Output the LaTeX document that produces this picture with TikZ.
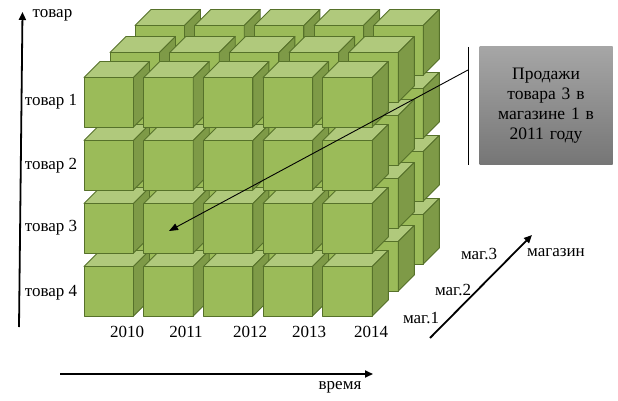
\documentclass[tikz,border=0pt]{standalone}
\usepackage{fontspec}
\setmainfont{Liberation Serif}
\usetikzlibrary{arrows.meta,positioning}
\definecolor{cubefront}{HTML}{9BBB59}
\definecolor{cubetop}{HTML}{B0C97C}
\definecolor{cubeside}{HTML}{7E9A47}
\definecolor{cubeedge}{HTML}{56712A}
\definecolor{notetop}{HTML}{A6A6A6}
\definecolor{notebot}{HTML}{767676}

\begin{document}
\begin{tikzpicture}[x=1pt,y=-1pt,
    lbl/.style={font=\fontsize{17}{20}\selectfont, inner sep=0pt},
    axis/.style={line width=1.8pt,-{Triangle[length=8pt,width=7pt]}},
    face/.style={draw=cubeedge,line width=0.9pt,line join=round}]
  \useasboundingbox (0,0) rectangle (618,401);
  % cubes, back layer first
  \foreach \dx/\dy in {51/-52,26/-25,0/0}
    \foreach \r in {3,2,1,0}
      \foreach \c in {0,...,4} {
        \pgfmathsetmacro\x{84+59.7*\c+\dx}
        \pgfmathsetmacro\y{77.5+63*\r+\dy}
        \draw[face,fill=cubefront] (\x,\y) rectangle ++(49.5,49.5);
        \draw[face,fill=cubetop] (\x,\y) -- ++(16,-16) -- ++(49.5,0) -- ++(-16,16) -- cycle;
        \draw[face,fill=cubeside] (\x+49.5,\y) -- ++(16,-16) -- ++(0,49.5) -- ++(-16,16) -- cycle;
      }
  % product axis
  \coordinate (vbot) at (19,327);
  \coordinate (vtop) at (22.5,12);
  \draw[axis] (vbot) -- (vtop);
  \node[lbl] (vlab) at (52.5,15) {товар};
  \node[lbl] (p1) at (51,102) {товар 1};
  \node[lbl] (p2) at (51,166) {товар 2};
  \node[lbl] (p3) at (51,228) {товар 3};
  \node[lbl] (p4) at (51,293) {товар 4};
  % years
  \node[lbl] (y1) at (127,332) {2010};
  \node[lbl] (y2) at (186,332) {2011};
  \node[lbl] (y3) at (250,332) {2012};
  \node[lbl] (y4) at (309,332) {2013};
  \node[lbl] (y5) at (371,332) {2014};
  % time axis
  \coordinate (hleft) at (60,374);
  \coordinate (hright) at (373,374);
  \draw[axis] (hleft) -- (hright);
  \node[lbl] (hlab) at (340,387) {время};
  % store axis
  \coordinate (sbot) at (430,338);
  \coordinate (stop) at (532,235);
  \draw[axis] (sbot) -- (stop);
  \node[lbl] (s1) at (421,318) {маг.1};
  \node[lbl] (s2) at (453,290) {маг.2};
  \node[lbl] (s3) at (479,254) {маг.3};
  \node[lbl] (slab) at (556,253) {магазин};
  % callout
  \node[top color=notetop,bottom color=notebot,minimum width=133pt,minimum height=117pt,
        text width=125pt,align=center,inner sep=0pt,
        font=\fontsize{17.5}{20}\selectfont] (note) at (546,105.5)
        {Продажи\\товара 3 в\\магазине 1 в\\2011 году};
  \coordinate (bartop) at (468,47);
  \coordinate (barbot) at (468,165);
  \coordinate (barmid) at (468,70);
  \coordinate (target) at (169,231);
  \draw[line width=1pt] (bartop) -- (barbot);
  \draw[line width=0.9pt,-{Triangle[length=9pt,width=7pt]}] (barmid) -- (target);
\end{tikzpicture}
\end{document}
